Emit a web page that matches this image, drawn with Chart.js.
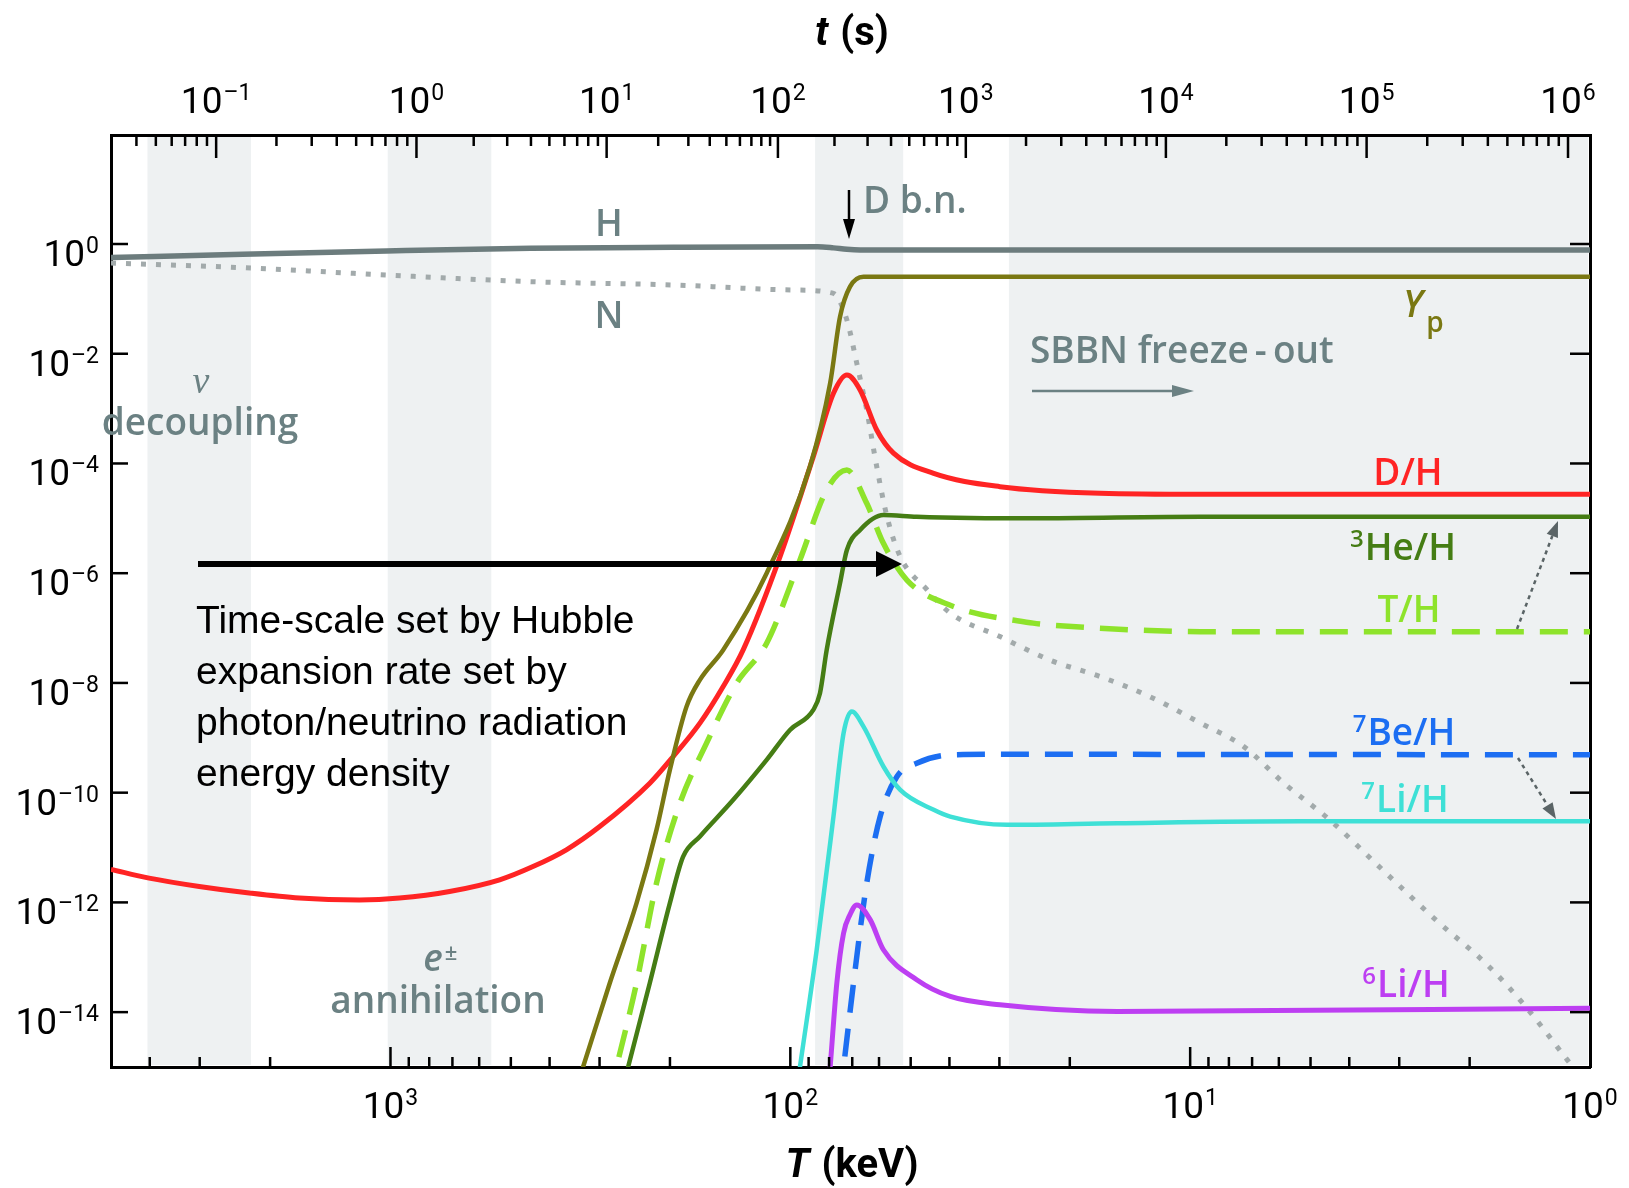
<!DOCTYPE html>
<html>
<head>
<meta charset="utf-8">
<script src="https://cdn.jsdelivr.net/npm/chart.js@4.4.1/dist/chart.umd.min.js"></script>
<style>
  html, body { margin: 0; padding: 0; background: #fff; }
  #wrap { width: 1629px; height: 1188px; position: relative; }
</style>
</head>
<body>
<div id="wrap"><canvas id="bbn"></canvas></div>
<script>
// abundances vs temperature T (keV)
const hT = [5000, 2341, 1023, 447, 196, 85.4, 78, 72.2, 66.9, 1];
const hY = [0.568, 0.649, 0.746, 0.835, 0.871, 0.89, 0.85, 0.80, 0.78, 0.78];

const nT = [5000, 2341, 1023, 447, 196, 98, 78, 72.2, 68.2, 64.4, 60.8, 57.3, 53.1, 45.5, 39.8, 29.9, 22.4, 16.8, 12.6, 9.42, 7.34, 5.83, 4.48, 3.30, 2.43, 1.79, 1.45, 1.14, 1];
const nY = [0.45, 0.37, 0.272, 0.206, 0.179, 0.145, 0.126, 0.0412, 6.7e-3, 9.4e-4, 8.8e-5, 1.07e-5, 2.0e-6, 5.0e-7, 1.87e-7, 7.0e-8, 2.6e-8, 1.31e-8, 5.6e-9, 1.85e-9, 6.9e-10, 1.49e-10, 3.2e-11, 3.9e-12, 4.8e-13, 6.8e-14, 1.27e-14, 1.35e-15, 4e-16];

const ypT = [351, 329.9, 282.8, 242.4, 216.1, 200.1, 181.8, 168.3, 147.2, 114.6, 89.3, 79.5, 75.1, 70.9, 65.6, 40, 1];
const ypY = [2.5e-16, 1.0e-15, 3.4e-14, 9.7e-13, 2.1e-11, 2.6e-10, 3.7e-9, 1.14e-8, 4.0e-8, 1.0e-6, 8.8e-5, 2.9e-3, 0.0473, 0.167, 0.2535, 0.254, 0.254];

const dT = [5000, 4015, 3008, 2255, 1690, 1196, 949.5, 711.6, 533.3, 440.2, 363.1, 299.7, 224.6, 196.4, 168.3, 147.2, 131.2, 106.1, 87.6, 78.0, 72.2, 66.9, 60.8, 55.2, 43.8, 29.9, 16.8, 9.42, 1];
const dY = [4.0e-12, 2.77e-12, 1.95e-12, 1.48e-12, 1.20e-12, 1.11e-12, 1.20e-12, 1.58e-12, 2.58e-12, 4.5e-12, 9.1e-12, 2.41e-11, 1.49e-10, 4.55e-10, 1.85e-9, 8.6e-9, 4.0e-8, 2.0e-6, 1.33e-4, 1.9e-3, 4.1e-3, 2.19e-3, 4.08e-4, 1.54e-4, 6.6e-5, 3.78e-5, 2.87e-5, 2.75e-5, 2.75e-5];

const he3T = [267.6, 254.5, 224.6, 200.1, 185.4, 168.3, 138.9, 114.6, 100.2, 87.6, 84.3, 81.1, 75.1, 72.2, 66.9, 58.5, 48.3, 24.7, 9.42, 1];
const he3Y = [2.5e-16, 1.0e-15, 3.4e-14, 9.7e-13, 6.85e-12, 1.59e-11, 7.4e-11, 3.96e-10, 1.39e-9, 3.23e-9, 6.5e-9, 4.0e-8, 6.6e-7, 2.65e-6, 6.15e-6, 1.15e-5, 1.07e-5, 1.0e-5, 1.07e-5, 1.07e-5];

const tritT = [285, 272.1, 242.4, 216.1, 188.9, 162.0, 136.2, 114.6, 94.6, 81.1, 72.2, 64.4, 58.5, 51.1, 39.8, 24.7, 22.4, 12.6, 9.42, 1];
const tritY = [2.5e-16, 1.0e-15, 3.4e-14, 2.24e-12, 6.4e-11, 8.0e-10, 9.9e-9, 5.3e-8, 1.75e-6, 3.3e-5, 7.6e-5, 1.88e-5, 3.5e-6, 7.5e-7, 2.6e-7, 1.23e-7, 1.14e-7, 9.0e-8, 8.6e-8, 8.6e-8];

const be7T = [75.4, 73.6, 69.5, 64.4, 59.6, 54.1, 48.3, 39.8, 29.9, 1];
const be7Y = [2.5e-16, 1.0e-15, 3.4e-14, 2.24e-12, 3.67e-11, 1.97e-10, 3.45e-10, 4.89e-10, 5.0e-10, 4.9e-10];

const li7T = [97.2, 94.6, 85.9, 78.0, 73.6, 70.2, 65.6, 58.5, 53.1, 43.8, 39.8, 28.7, 15.2, 5.29, 1];
const li7Y = [2.5e-16, 1.0e-15, 1.37e-13, 3.67e-11, 1.21e-9, 3.0e-9, 1.6e-9, 3.0e-10, 1.12e-10, 4.87e-11, 3.67e-11, 2.59e-11, 2.78e-11, 3.0e-11, 3.0e-11];

const li6T = [80.8, 79.5, 76.5, 73.6, 70.9, 68.2, 63.1, 58.5, 48.3, 39.8, 29.9, 15.2, 1];
const li6Y = [2.5e-16, 1.0e-15, 3.4e-14, 2.75e-13, 6.0e-13, 9.0e-13, 4.8e-13, 1.37e-13, 3.9e-14, 1.93e-14, 1.36e-14, 1.03e-14, 1.18e-14];

// shaded epochs (T range in keV)
const bandHi = [4053, 1016, 86.7, 28.4];
const bandLo = [2233, 559.5, 52.2, 1];

// axis ticks: values and the power-of-ten exponent shown for each
const bottomTicks = [1000, 100, 10, 1];
const bottomExp = ['3', '2', '1', '0'];
const yTicks = [1, 1e-2, 1e-4, 1e-6, 1e-8, 1e-10, 1e-12, 1e-14];
const yExp = ['0', '\u20132', '\u20134', '\u20136', '\u20138', '\u201310', '\u201312', '\u201314'];
// temperature at which t = 10^-1 ... 10^6 s
const tTickT = [2729, 861, 288, 107.4, 36.4, 11.5, 3.62, 1.135];
const tExp = ['\u20131', '0', '1', '2', '3', '4', '5', '6'];

const GREY = '#6b8183';
const C = {
  h: '#6c7c7d', n: '#a2aaab', yp: '#7a7812', d: '#ff2424', he3: '#457d14',
  t: '#8ee32b', be7: '#1c6ef2', li7: '#3ee0d6', li6: '#bd3ff2'
};

function pts(xs, ys) { return xs.map((x, i) => ({ x: x, y: ys[i] })); }

function line(data, color, width, dash) {
  return {
    data: data, borderColor: color, borderWidth: width, borderDash: dash || [],
    borderCapStyle: 'butt', pointRadius: 0, fill: false, clip: 0,
    cubicInterpolationMode: 'monotone'
  };
}

Chart.defaults.font.family = 'Roboto';

function arrow(ctx, x0, y0, x1, y1, color, w, head, half, dash) {
  const ang = Math.atan2(y1 - y0, x1 - x0);
  const bx = x1 - head * Math.cos(ang), by = y1 - head * Math.sin(ang);
  ctx.save();
  ctx.strokeStyle = color; ctx.fillStyle = color; ctx.lineWidth = w;
  ctx.setLineDash(dash || []);
  ctx.beginPath(); ctx.moveTo(x0, y0); ctx.lineTo(bx, by); ctx.stroke();
  ctx.setLineDash([]);
  ctx.beginPath();
  ctx.moveTo(x1, y1);
  ctx.lineTo(bx + half * Math.sin(ang), by - half * Math.cos(ang));
  ctx.lineTo(bx - half * Math.sin(ang), by + half * Math.cos(ang));
  ctx.closePath(); ctx.fill();
  ctx.restore();
}

function supLabel(ctx, sup, main, cx, base, color) {
  ctx.fillStyle = color;
  ctx.textAlign = 'left';
  ctx.font = '600 24px "Open Sans"';
  const ws = sup ? ctx.measureText(sup).width + 1 : 0;
  ctx.font = '600 37px "Open Sans"';
  const wm = ctx.measureText(main).width;
  const x0 = cx - (ws + wm) / 2;
  ctx.fillText(main, x0 + ws, base);
  if (sup) {
    ctx.font = '600 24px "Open Sans"';
    ctx.fillText(sup, x0, base - 13);
  }
}

// "10" with a raised exponent, centred or right-aligned on x
function powLabel(ctx, exp, x, base, align) {
  ctx.font = '37px Roboto';
  const wb = ctx.measureText('10').width;
  ctx.font = '23px Roboto';
  const we = ctx.measureText(exp).width;
  const x0 = align === 'right' ? x - wb - we - 1 : x - (wb + we + 1) / 2;
  ctx.textAlign = 'left';
  ctx.font = '37px Roboto';
  ctx.fillText('10', x0, base);
  ctx.font = '23px Roboto';
  ctx.fillText(exp, x0 + wb + 1, base - 13);
}

function stroke(ctx, x0, y0, x1, y1) {
  ctx.beginPath(); ctx.moveTo(x0, y0); ctx.lineTo(x1, y1); ctx.stroke();
}

const decor = {
  id: 'decor',
  beforeDatasetsDraw(chart) {
    const { ctx, chartArea: a, scales: { x } } = chart;
    ctx.save();
    ctx.fillStyle = '#eef1f2';
    bandHi.forEach((hi, i) => {
      const x0 = Math.max(x.getPixelForValue(hi), a.left + 2);
      const x1 = Math.min(x.getPixelForValue(bandLo[i]), a.right - 2);
      ctx.fillRect(x0, a.top + 2, x1 - x0, a.bottom - a.top - 4);
    });
    ctx.restore();
  },
  afterDatasetsDraw(chart) {
    const { ctx, chartArea: a, scales: { x, y } } = chart;
    ctx.save();
    // inward tick marks
    ctx.strokeStyle = '#000';
    ctx.lineWidth = 2.5;
    for (let n = 0; n <= 3; n++) {
      for (let k = 1; k <= 9; k++) {
        const px = x.getPixelForValue(k * Math.pow(10, n));
        if (px < a.left + 3 || px > a.right - 3) continue;
        stroke(ctx, px, a.bottom, px, a.bottom - (k === 1 ? 20 : 10));
      }
    }
    const lt = tTickT.map(v => Math.log10(v));
    for (let i = -1; i < lt.length; i++) {
      for (let k = 1; k <= 9; k++) {
        let lg;
        if (i < 0) {
          if (k === 1) continue;
          lg = lt[0] + (lt[1] - lt[0]) * (Math.log10(k) - 1);
        } else if (i === lt.length - 1) {
          if (k > 1) continue;
          lg = lt[i];
        } else {
          lg = lt[i] + (lt[i + 1] - lt[i]) * Math.log10(k);
        }
        const px = x.getPixelForValue(Math.pow(10, lg));
        if (px < a.left + 3 || px > a.right - 3) continue;
        stroke(ctx, px, a.top, px, a.top + (k === 1 ? 23 : 11));
      }
    }
    yTicks.forEach(v => {
      const py = y.getPixelForValue(v);
      stroke(ctx, a.left, py, a.left + 17, py);
      stroke(ctx, a.right, py, a.right - 20, py);
    });

    // grey annotations
    ctx.fillStyle = GREY;
    ctx.textAlign = 'center';
    ctx.textBaseline = 'alphabetic';
    ctx.font = '600 37px "Open Sans"';
    ctx.fillText('H', 609, 236);
    ctx.fillText('N', 609, 328);
    ctx.fillText('decoupling', 200, 435);
    ctx.fillText('annihilation', 438, 1013);
    ctx.textAlign = 'left';
    ctx.fillText('D b.n.', 863, 213);
    ctx.fillText('SBBN freeze\u2009-\u2009out', 1030, 363);
    ctx.textAlign = 'center';
    ctx.font = 'italic 38px "Liberation Serif"';
    ctx.fillText('\u03bd', 201, 393);
    ctx.font = 'italic 600 37px "Open Sans"';
    ctx.fillText('e', 433, 971);
    ctx.font = '600 22px "Open Sans"';
    ctx.fillText('\u00b1', 451, 960);
    arrow(ctx, 849, 190, 849, 239, '#000', 2.5, 20, 6);
    arrow(ctx, 1032, 391, 1194, 391, GREY, 2.5, 22, 6);

    // Yp
    ctx.fillStyle = C.yp;
    ctx.font = 'italic 600 37px "Open Sans"';
    ctx.fillText('Y', 1413, 317);
    ctx.font = '600 28px "Open Sans"';
    ctx.fillText('p', 1435, 332);

    // nuclide labels
    supLabel(ctx, '', 'D/H', 1408, 485, C.d);
    supLabel(ctx, '3', 'He/H', 1403, 560, C.he3);
    supLabel(ctx, '', 'T/H', 1409, 622, C.t);
    supLabel(ctx, '7', 'Be/H', 1404, 745, C.be7);
    supLabel(ctx, '7', 'Li/H', 1405, 812, C.li7);
    supLabel(ctx, '6', 'Li/H', 1406, 997, C.li6);

    // dotted grey arrows
    arrow(ctx, 1517, 629, 1558, 521, '#5a6466', 2.5, 16, 6, [4, 4]);
    arrow(ctx, 1518, 758, 1556, 819, '#5a6466', 2.5, 16, 6, [4, 4]);

    // explanatory note
    arrow(ctx, 198, 564, 902, 564, '#000', 6, 26, 13);
    ctx.fillStyle = '#000';
    ctx.textAlign = 'left';
    ctx.font = '39px "Liberation Sans"';
    ['Time-scale set by Hubble', 'expansion rate set by',
     'photon/neutrino radiation', 'energy density'].forEach((s, i) => {
      ctx.fillText(s, 196, 633 + i * 51);
    });
    ctx.restore();
  },
  afterDraw(chart) {
    const { ctx, chartArea: a, scales } = chart;
    ctx.save();
    ctx.fillStyle = '#000';
    ctx.textBaseline = 'alphabetic';
    // tick labels at the positions of the library's ticks
    scales.x.ticks.forEach((t, i) => {
      powLabel(ctx, bottomExp[i], scales.x.getPixelForValue(t.value), a.bottom + 51, 'center');
    });
    scales.xt.ticks.forEach((t, i) => {
      powLabel(ctx, tExp[i], scales.xt.getPixelForValue(t.value), a.top - 22, 'center');
    });
    scales.y.ticks.forEach((t, i) => {
      powLabel(ctx, yExp[i], a.left - 12, scales.y.getPixelForValue(t.value) + 22, 'right');
    });
    // axis titles
    ctx.textAlign = 'left';
    function title(it, rest, cx, base) {
      ctx.font = 'italic bold 40px Roboto';
      const w1 = ctx.measureText(it).width;
      ctx.font = 'bold 40px Roboto';
      const w2 = ctx.measureText(rest).width;
      const x0 = cx - (w1 + w2) / 2;
      ctx.font = 'italic bold 40px Roboto';
      ctx.fillText(it, x0, base);
      ctx.font = 'bold 40px Roboto';
      ctx.fillText(rest, x0 + w1 + 2, base);
    }
    title('t', ' (s)', 851, 45);
    title('T', ' (keV)', 851, 1177);
    ctx.restore();
  }
};

const axisBorder = { display: true, color: '#000', width: 3 };

new Chart(document.getElementById('bbn'), {
  type: 'line',
  data: {
    datasets: [
      line(pts(hT, hY), C.h, 5.5),
      line(pts(ypT, ypY), C.yp, 4.5),
      line(pts(dT, dY), C.d, 5),
      line(pts(he3T, he3Y), C.he3, 4.5),
      line(pts(li7T, li7Y), C.li7, 4.5),
      line(pts(li6T, li6Y), C.li6, 5),
      line(pts(tritT, tritY), C.t, 5.5, [28, 16]),
      line(pts(be7T, be7Y), C.be7, 5.5, [28, 16]),
      line(pts(nT, nY), C.n, 5, [5, 10])
    ]
  },
  options: {
    responsive: true,
    maintainAspectRatio: false,
    animation: false,
    layout: { padding: 0 },
    plugins: { legend: { display: false }, tooltip: { enabled: false } },
    scales: {
      x: {
        type: 'logarithmic', position: 'bottom', reverse: true, min: 1, max: 5000,
        grid: { display: false },
        border: axisBorder,
        afterBuildTicks: s => { s.ticks = bottomTicks.map(v => ({ value: v })); },
        afterFit: s => { s.height = 121; },
        ticks: { display: false }
      },
      xt: {
        type: 'logarithmic', position: 'top', reverse: true, min: 1, max: 5000,
        grid: { display: false },
        border: axisBorder,
        afterBuildTicks: s => { s.ticks = tTickT.map(v => ({ value: v })); },
        afterFit: s => { s.height = 135; },
        ticks: { display: false }
      },
      y: {
        type: 'logarithmic', position: 'left', min: 1e-15, max: 97,
        grid: { display: false },
        border: axisBorder,
        afterBuildTicks: s => { s.ticks = yTicks.map(v => ({ value: v })); },
        afterFit: s => { s.width = 111; },
        ticks: { display: false }
      },
      yr: {
        type: 'logarithmic', position: 'right', min: 1e-15, max: 97,
        grid: { display: false },
        border: axisBorder,
        ticks: { display: false },
        afterFit: s => { s.width = 39; }
      }
    }
  },
  plugins: [decor]
});
</script>
</body>
</html>
